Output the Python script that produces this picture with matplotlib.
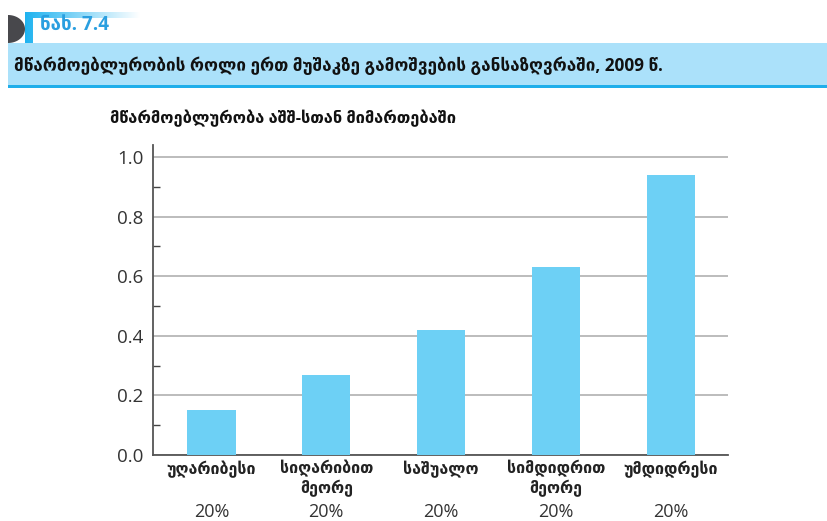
import matplotlib
matplotlib.use("Agg")
import matplotlib.pyplot as plt
import matplotlib.transforms as mtransforms
import numpy as np
from matplotlib.patches import Rectangle, Polygon
from matplotlib.ticker import MultipleLocator

categories = ["უღარიბესი", "სიღარიბით\nმეორე", "საშუალო", "სიმდიდრით\nმეორე", "უმდიდრესი"]
shares = ["20%", "20%", "20%", "20%", "20%"]
values = [0.15, 0.27, 0.42, 0.63, 0.94]
yticks = [0.0, 0.2, 0.4, 0.6, 0.8, 1.0]

fig_title = "მწარმოებლურობის როლი ერთ მუშაკზე გამოშვების განსაზღვრაში, 2009 წ."
fig_label = "ნახ. 7.4"
y_title = "მწარმოებლურობა აშშ-სთან მიმართებაში"

plt.rcParams['font.family'] = ['Open Sans', 'DejaVu Sans']

W, H = 827, 521
fig = plt.figure(figsize=(W/100, H/100), dpi=100)

def fx(px): return px / W
def fy(py): return 1 - py / H

# header band
fig.add_artist(Rectangle((fx(8), fy(86)), fx(827) - fx(8), fy(43) - fy(86),
                         transform=fig.transFigure, facecolor="#ABE1FA", edgecolor="none"))
fig.add_artist(Rectangle((fx(8), fy(88)), fx(827) - fx(8), fy(85) - fy(88),
                         transform=fig.transFigure, facecolor="#1FAEEA", edgecolor="none"))
# gradient label box
gax = fig.add_axes([fx(25), fy(43), fx(140) - fx(25), fy(12) - fy(43)])
t = np.linspace(0, 1, 300)[None, :]
img = np.ones((40, 300, 3))
c0 = np.array([0.12, 0.70, 0.94])
c1 = np.array([1.0, 1.0, 1.0])
mix = np.clip(t, 0, 1)[..., None]
img[:] = c0 * (1 - mix) + c1 * mix
gax.imshow(img, aspect='auto', extent=[0, 1, 0, 1])
gax.add_patch(Rectangle((8/115, 0.0), 1, 25/31, facecolor="white", edgecolor="none"))
gax.set_xlim(0, 1); gax.set_ylim(0, 1); gax.axis('off')
# dark half-disc
th = np.linspace(-np.pi/2, np.pi/2, 60)
pts = [(fx(8 + 17*np.cos(a)), fy(29 - 14*np.sin(a))) for a in th]
pts = [(fx(8), fy(43))] + pts + [(fx(8), fy(15))]
fig.add_artist(Polygon(pts, closed=True, transform=fig.transFigure,
                       facecolor="#48484C", edgecolor="none"))
fig.text(fx(40), fy(25), fig_label, color="#2A9FE0", fontsize=13.5, fontweight="bold",
         va="center", ha="left")
fig.text(fx(14), fy(66), fig_title, color="#111111", fontsize=12.3, fontweight="bold",
         va="center", ha="left")
fig.text(fx(110), fy(118), y_title, color="#111111", fontsize=11.8, fontweight="bold",
         va="center", ha="left")

ax = fig.add_axes([fx(153), fy(455), fx(728) - fx(153), fy(145) - fy(455)])
x = np.arange(len(values))
ax.bar(x, values, width=0.42, color="#6DD0F5", zorder=3)
ax.set_xlim(-0.51, 4.5)
ax.set_ylim(0, 1.04)
ax.set_yticks(yticks)
ax.set_yticklabels([f"{v:.1f}" for v in yticks], fontsize=13.5, color="#333333")
ax.yaxis.set_minor_locator(MultipleLocator(0.1))
ax.tick_params(axis='y', which='major', length=0, pad=7)
ax.tick_params(axis='y', which='minor', length=5, direction='in', color="#444444", width=1)
ax.grid(axis='y', which='major', color="#B0B0B0", linewidth=1.2, zorder=0)
ax.set_xticks(x)
ax.set_xticklabels(categories, fontsize=11.5, fontweight="bold", color="#222222",
                   va="top", linespacing=1.15)
ax.tick_params(axis='x', length=0, pad=4)
for s in ["top", "right"]:
    ax.spines[s].set_visible(False)
for s in ["left", "bottom"]:
    ax.spines[s].set_color("#555555")
    ax.spines[s].set_linewidth(1.3)
tr = mtransforms.blended_transform_factory(ax.transData, fig.transFigure)
for xi, s in zip(x, shares):
    ax.text(xi, fy(512), s, transform=tr, ha="center", va="center",
            fontsize=13, color="#333333")

fig.savefig("out.png", dpi=100)
